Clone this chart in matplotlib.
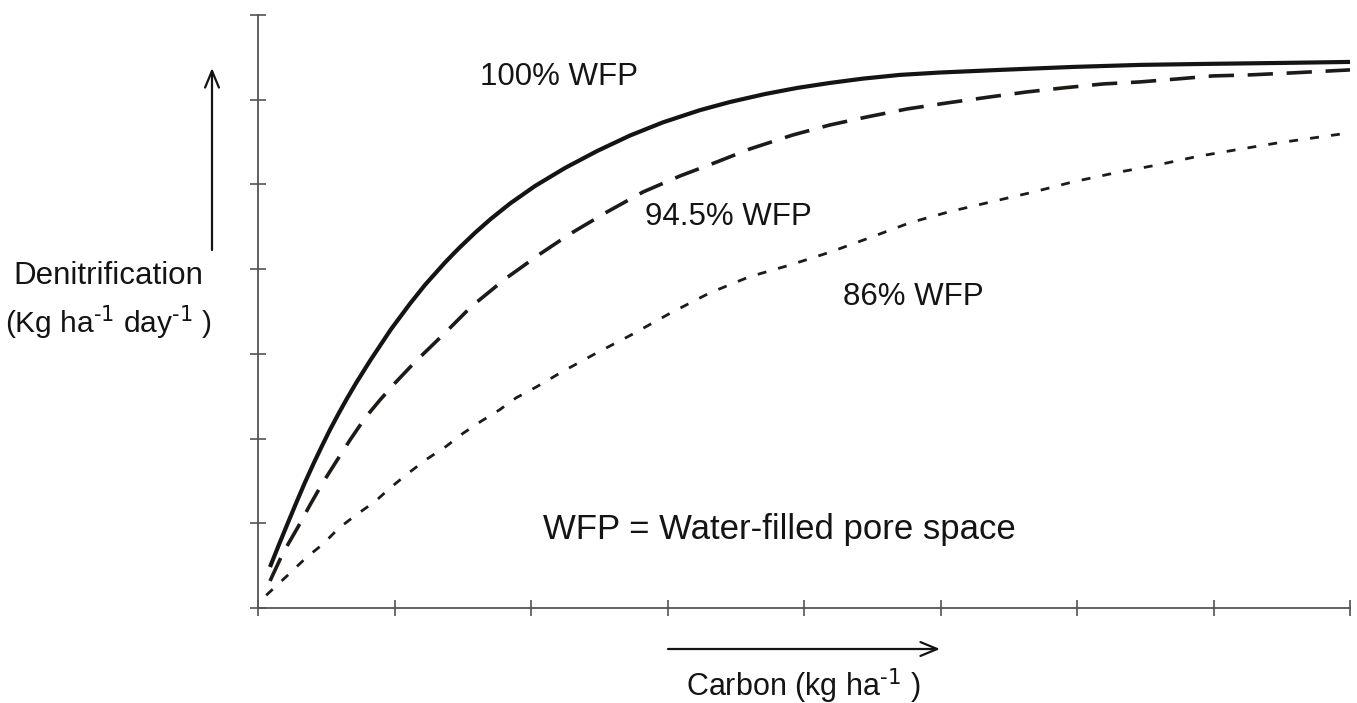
import matplotlib.pyplot as plt
import numpy as np

plt.rcParams['font.family'] = ['Liberation Sans', 'DejaVu Sans']
plt.rcParams['mathtext.default'] = 'regular'

# values (x: 0-8 tick units, y: 0-7 tick units)
x_100 = [0.088, 0.154, 0.220, 0.286, 0.344, 0.410, 0.469, 0.527, 0.586,
         0.652, 0.718, 0.821, 0.974, 1.114, 1.223, 1.370, 1.465, 1.590,
         1.707, 1.846, 2.029, 2.249, 2.484, 2.725, 2.967, 3.238, 3.458,
         3.714, 3.949, 4.190, 4.432, 4.703, 4.996, 5.436, 5.971, 6.462,
         6.952, 7.487, 8.000]
y_100 = [0.484, 0.750, 1.009, 1.264, 1.482, 1.715, 1.914, 2.103, 2.282,
         2.473, 2.654, 2.919, 3.290, 3.593, 3.813, 4.078, 4.236, 4.429,
         4.595, 4.774, 4.981, 5.194, 5.394, 5.577, 5.733, 5.877, 5.973,
         6.067, 6.139, 6.198, 6.249, 6.293, 6.321, 6.352, 6.387, 6.411,
         6.423, 6.434, 6.446]

x_945 = [0.088, 0.183, 0.293, 0.381, 0.469, 0.571, 0.674, 0.784, 0.894,
         1.004, 1.150, 1.370, 1.560, 1.810, 2.066, 2.286, 2.557, 2.821,
         3.092, 3.363, 3.604, 3.919, 4.190, 4.462, 4.755, 5.048, 5.363,
         5.634, 5.897, 6.190, 6.462, 6.733, 6.996, 7.267, 7.582, 8.000]
y_945 = [0.319, 0.649, 0.956, 1.216, 1.464, 1.724, 1.983, 2.243, 2.456,
         2.656, 2.904, 3.247, 3.554, 3.884, 4.179, 4.416, 4.675, 4.911,
         5.100, 5.266, 5.419, 5.584, 5.702, 5.797, 5.891, 5.962, 6.033,
         6.092, 6.139, 6.186, 6.210, 6.245, 6.281, 6.293, 6.317, 6.352]

x_86 = [0.06, 0.22, 0.35, 0.48, 0.59, 0.72, 0.86, 0.97, 1.10, 1.23, 1.38,
        1.50, 1.63, 1.77, 1.89, 2.04, 2.23, 2.48, 2.73, 3.02, 3.31, 3.60,
        3.90, 4.19, 4.48, 4.78, 5.07, 5.36, 5.68, 5.97, 6.29, 6.59, 6.88,
        7.17, 7.47, 7.78, 8.00]
y_86 = [0.15, 0.39, 0.59, 0.76, 0.94, 1.10, 1.26, 1.42, 1.59, 1.75, 1.91,
        2.06, 2.20, 2.34, 2.48, 2.61, 2.79, 3.01, 3.22, 3.48, 3.72, 3.91,
        4.05, 4.20, 4.37, 4.55, 4.68, 4.79, 4.91, 5.03, 5.14, 5.23, 5.33,
        5.41, 5.49, 5.56, 5.61]

W, H = 1357, 703
fig = plt.figure(figsize=(W / 100, H / 100), dpi=100)
ax = fig.add_axes([258 / W, (H - 608) / H, (1350 - 258) / W, (608 - 15) / H])

ink = '#141414'
ax.plot(x_100, y_100, color=ink, lw=3.0, solid_capstyle='butt',
        solid_joinstyle='round')
ax.plot(x_945, y_945, color='#1e1a18', lw=2.6, linestyle=(0, (7.0, 3.8)))
ax.plot(x_86, y_86, color='#1e1a18', lw=2.0, linestyle=(0, (3.2, 4.4)))

ax.set_xlim(0, 8)
ax.set_ylim(0, 7)
ax.set_xticks(np.arange(0, 9))
ax.set_yticks(np.arange(0, 8))
ax.set_xticklabels([])
ax.set_yticklabels([])
for s in ['top', 'right']:
    ax.spines[s].set_visible(False)
for s in ['left', 'bottom']:
    ax.spines[s].set_color('#555555')
    ax.spines[s].set_linewidth(1.3)
ax.tick_params(direction='inout', length=12, width=1.1, color='#444444')

fs = 22.5
sup = r'$^{\text{-1}}$'
fig.text(480 / W, 1 - 77 / H, '100% WFP', fontsize=fs, color=ink,
         va='center', ha='left')
fig.text(645 / W, 1 - 217 / H, '94.5% WFP', fontsize=fs, color=ink,
         va='center', ha='left')
fig.text(843 / W, 1 - 297 / H, '86% WFP', fontsize=fs, color=ink,
         va='center', ha='left')
fig.text(543 / W, 1 - 529 / H, 'WFP = Water-filled pore space', fontsize=25,
         color=ink, va='center', ha='left')

fig.text(108 / W, 1 - 276 / H, 'Denitrification', fontsize=fs, color=ink,
         ha='center', va='center')
fig.text(108 / W, 1 - 322 / H, '(Kg ha' + sup + ' day' + sup + ' )',
         fontsize=21.5, color=ink, ha='center', va='center')
fig.text(803 / W, 1 - 686 / H, 'Carbon (kg ha' + sup + ' )', fontsize=22,
         color=ink, ha='center', va='center')

arrow = dict(arrowstyle='->,head_length=1.2,head_width=0.5', color=ink, lw=1.6,
             shrinkA=0, shrinkB=0)
ax.annotate('', xy=(212 / W, 1 - 68 / H), xytext=(212 / W, 1 - 250 / H),
            xycoords='figure fraction', textcoords='figure fraction',
            arrowprops=arrow, annotation_clip=False)
ax.annotate('', xy=(940 / W, 1 - 649 / H), xytext=(668 / W, 1 - 649 / H),
            xycoords='figure fraction', textcoords='figure fraction',
            arrowprops=arrow, annotation_clip=False)

fig.savefig('out.png', dpi=100)
